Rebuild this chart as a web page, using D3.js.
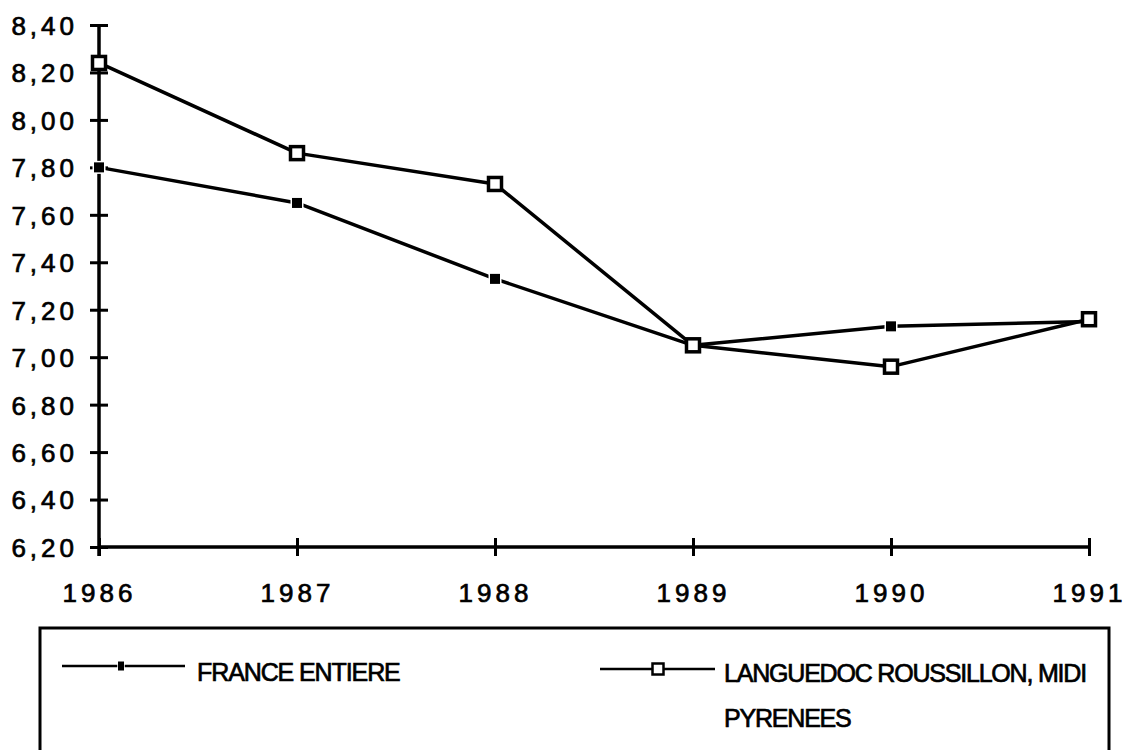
<!DOCTYPE html>
<html><head><meta charset="utf-8">
<script src="https://cdn.jsdelivr.net/npm/d3@7"></script>
<style>
html,body{margin:0;padding:0;background:#fff;}
svg{display:block;}
text{font-family:"Liberation Sans",Arial,Helvetica,sans-serif;fill:#000;stroke:#000;stroke-width:0.7px;}
</style></head>
<body>
<svg id="chart" width="1139" height="750"></svg>
<script>
const years = ["1986","1987","1988","1989","1990","1991"];
const franceEntiere = [7.80, 7.65, 7.33, 7.05, 7.13, 7.15];
const languedocMidi = [8.24, 7.86, 7.73, 7.05, 6.96, 7.16];
const yTicks = [6.2, 6.4, 6.6, 6.8, 7.0, 7.2, 7.4, 7.6, 7.8, 8.0, 8.2, 8.4];
const seriesNames = ["FRANCE ENTIERE", "LANGUEDOC ROUSSILLON, MIDI PYRENEES"];

const svg = d3.select("#chart");
const x = d3.scalePoint().domain(years).range([99, 1089]);
const y = d3.scaleLinear().domain([6.2, 8.4]).range([547, 25]);
const fmt = v => d3.format(".2f")(v).replace(".", ",");

// Y axis
const gy = svg.append("g").attr("transform", "translate(99,0)")
  .call(d3.axisLeft(y).tickValues(yTicks).tickFormat(fmt).tickSize(9).tickPadding(14));
gy.select(".domain").remove();
gy.selectAll(".tick line").attr("x1", -9).attr("x2", 9).attr("stroke", "#000").attr("stroke-width", 3);
gy.selectAll(".tick text").attr("font-size", 26).attr("font-family", "Liberation Sans, Arial, sans-serif")
  .style("letter-spacing", "4px").attr("dy", "0.36em").attr("dx", 2);
svg.append("line").attr("x1", 99).attr("x2", 99).attr("y1", y(8.4)).attr("y2", y(6.2) + 9)
  .attr("stroke", "#000").attr("stroke-width", 3.5);

// X axis
const gx = svg.append("g").attr("transform", "translate(0,547)")
  .call(d3.axisBottom(x).tickSize(9).tickPadding(28));
gx.select(".domain").remove();
gx.selectAll(".tick line").attr("y1", -9).attr("y2", 9).attr("stroke", "#000").attr("stroke-width", 3);
gx.selectAll(".tick text").attr("font-size", 26).attr("font-family", "Liberation Sans, Arial, sans-serif")
  .style("letter-spacing", "4px").attr("dx", 0);
svg.append("line").attr("x1", 99).attr("x2", 1089).attr("y1", 547).attr("y2", 547)
  .attr("stroke", "#000").attr("stroke-width", 3.5);

const line = d3.line().x((d, i) => x(years[i])).y(d => y(d));

// France series
svg.append("path").datum(franceEntiere).attr("d", line)
  .attr("fill", "none").attr("stroke", "#000").attr("stroke-width", 3.5).attr("stroke-linejoin", "round");
svg.selectAll(".fm").data(franceEntiere).enter().append("rect")
  .attr("x", (d, i) => x(years[i]) - 5).attr("y", d => y(d) - 5)
  .attr("width", 10).attr("height", 10).attr("fill", "#000").attr("stroke", "#fff").attr("stroke-width", 3)
  .attr("paint-order", "stroke");

// Languedoc series
svg.append("path").datum(languedocMidi).attr("d", line)
  .attr("fill", "none").attr("stroke", "#000").attr("stroke-width", 3.5).attr("stroke-linejoin", "round");
svg.selectAll(".lm").data(languedocMidi).enter().append("rect")
  .attr("x", (d, i) => x(years[i]) - 6.5).attr("y", d => y(d) - 6.5)
  .attr("width", 13).attr("height", 13).attr("fill", "#fff").attr("stroke", "#000").attr("stroke-width", 3.5);

// Legend box
svg.append("rect").attr("x", 40).attr("y", 628).attr("width", 1069).attr("height", 140)
  .attr("fill", "none").attr("stroke", "#000").attr("stroke-width", 3);

// Legend entry 1
const l1 = svg.append("g");
l1.append("line").attr("x1", 62).attr("x2", 185).attr("y1", 666).attr("y2", 666)
  .attr("stroke", "#000").attr("stroke-width", 2.5);
l1.append("rect").attr("x", 118).attr("y", 661.5).attr("width", 6).attr("height", 9)
  .attr("fill", "#000").attr("stroke", "#fff").attr("stroke-width", 1.5).attr("paint-order", "stroke");
l1.append("text").attr("x", 197).attr("y", 681).attr("font-size", 25)
  .style("letter-spacing", "-1.1px").text(seriesNames[0]);

// Legend entry 2
const l2 = svg.append("g");
l2.append("line").attr("x1", 600).attr("x2", 715).attr("y1", 669).attr("y2", 669)
  .attr("stroke", "#000").attr("stroke-width", 2.5);
l2.append("rect").attr("x", 652.5).attr("y", 663.5).attr("width", 11).attr("height", 11)
  .attr("fill", "#fff").attr("stroke", "#000").attr("stroke-width", 2.5);
const t2 = l2.append("text").attr("x", 724).attr("y", 682).attr("font-size", 25)
  .style("letter-spacing", "-1.2px");
const words = seriesNames[1].split(" ");
t2.append("tspan").attr("x", 724).text(words.slice(0, 3).join(" "));
t2.append("tspan").attr("x", 724).attr("dy", 45).text(words.slice(3).join(" "));
</script>
</body></html>
